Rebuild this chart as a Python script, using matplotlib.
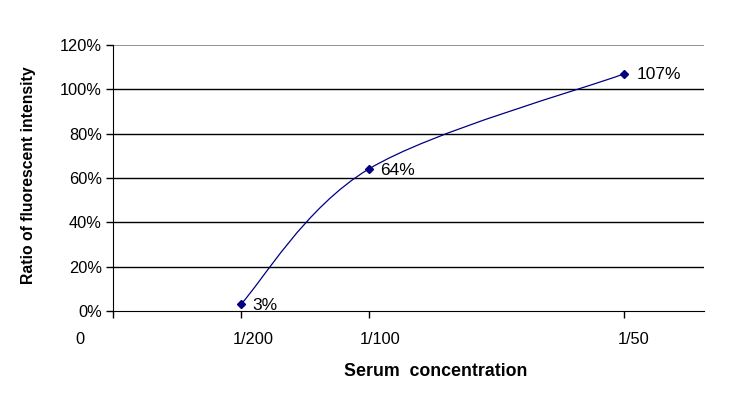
import matplotlib
matplotlib.use("Agg")
import matplotlib.pyplot as plt
from matplotlib.path import Path
from matplotlib.patches import PathPatch
import numpy as np

# data
x_vals = [1/200, 1/100, 1/50]
y_vals = [0.03, 0.64, 1.07]
point_labels = ["3%", "64%", "107%"]
x_ticks = [0, 1/200, 1/100, 1/50]
x_tick_labels = ["0", "1/200", "1/100", "1/50"]
y_ticks = [0, 0.2, 0.4, 0.6, 0.8, 1.0, 1.2]
y_tick_labels = ["0%", "20%", "40%", "60%", "80%", "100%", "120%"]

plt.rcParams['font.family'] = ['Liberation Sans', 'DejaVu Sans']
W, H = 729, 403
fig = plt.figure(figsize=(W/100, H/100), dpi=100)
ax = fig.add_axes([113/W, 1-311/H, (704-113)/W, (311-45)/H])

navy = "#000080"

# Excel-like smoothed line through points (cubic Bezier)
px = np.array(x_vals); py = np.array(y_vals)
n = len(px)
verts = [(px[0], py[0])]
codes = [Path.MOVETO]
for i in range(n-1):
    p0 = (px[i-1], py[i-1]) if i > 0 else (px[i], py[i])
    p1 = (px[i], py[i]); p2 = (px[i+1], py[i+1])
    p3 = (px[i+2], py[i+2]) if i+2 < n else (px[i+1], py[i+1])
    c1 = (p1[0] + (p2[0]-p0[0])/6, p1[1] + (p2[1]-p0[1])/6)
    c2 = (p2[0] - (p3[0]-p1[0])/6, p2[1] - (p3[1]-p1[1])/6)
    verts += [c1, c2, p2]
    codes += [Path.CURVE4]*3
ax.add_patch(PathPatch(Path(verts, codes), fill=False, edgecolor=navy, lw=0.9))
ax.plot(x_vals, y_vals, linestyle='none', marker='D', markersize=4, color=navy)

for xv, yv, lab in zip(x_vals, y_vals, point_labels):
    ax.annotate(lab, (xv, yv), xytext=(12, -1), textcoords='offset pixels',
                ha='left', va='center', fontsize=12.5, color='black')

ax.set_xlim(0, 0.023125)
ax.set_ylim(0, 1.2)
ax.set_yticks(y_ticks)
ax.set_yticklabels(y_tick_labels, fontsize=11.8)
ax.set_xticks(x_ticks)
ax.set_xticklabels([])
offsets = [-33, 12, 12, 9]
for xv, lab, off in zip(x_ticks, x_tick_labels, offsets):
    ax.annotate(lab, (xv, 0), xycoords=('data', 'axes fraction'),
                xytext=(off, -28), textcoords='offset pixels',
                ha='center', va='center', fontsize=11.8, annotation_clip=False)

for yv in y_ticks[1:-1]:
    ax.axhline(yv, color='black', lw=1, zorder=0)
ax.axhline(1.2, color='#808080', lw=1.2, zorder=0)

for s in ['top', 'right']:
    ax.spines[s].set_visible(False)
ax.spines['left'].set_color('black')
ax.spines['bottom'].set_color('black')
ax.tick_params(axis='both', direction='out', length=5, width=1, color='black')
ax.tick_params(axis='y', pad=3)

fig.text(436/W, 1-371/H, "Serum  concentration", ha='center', va='center',
         fontsize=12.8, fontweight='bold')
fig.text(29/W, 1-175/H, "Ratio of fluorescent intensity", ha='center', va='center',
         fontsize=11.3, fontweight='bold', rotation=90)

fig.savefig("out.png", dpi=100)
